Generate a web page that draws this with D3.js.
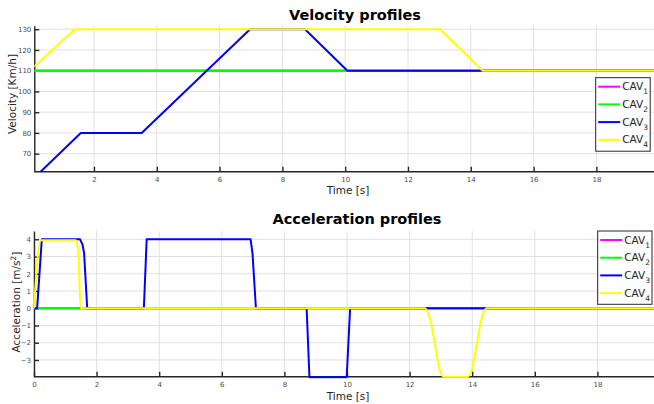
<!DOCTYPE html>
<html>
<head>
<meta charset="utf-8">
<script src="https://cdn.jsdelivr.net/npm/d3@7"></script>
<style>
  body { margin: 0; background: #fff; }
  svg { display: block; font-family: "DejaVu Sans", sans-serif; }
  .axis path, .axis line { stroke: #262626; }
  .axis text { fill: #4d4d4d; font-size: 7px; font-family: "DejaVu Sans", sans-serif; }
  .grid line { stroke: #e0e0e0; }
</style>
</head>
<body>
<div id="chart"></div>
<script>
// series names and colours
const names = ["CAV1", "CAV2", "CAV3", "CAV4"];
const colors = ["#ff00ff", "#00ff00", "#0000ff", "#ffff00"];

// velocity profiles [time s, km/h]
const velCav1 = [[0.1, 110], [20, 110]];
const velCav2 = [[0.1, 110], [20, 110]];
const velCav3 = [[0.3, 61.3], [1.58, 80], [3.52, 80], [6.97, 130], [8.72, 130], [10.07, 110], [20, 110]];
const velCav4 = [[0.1, 112], [1.39, 130], [13.02, 130], [14.38, 110], [20, 110]];

// acceleration profiles [time s, m/s^2]
const accCav1 = [[0, 0], [20, 0]];
const accCav2 = [[0, 0], [20, 0]];
const accCav3 = [[0, 0], [0.1, 0], [0.25, 4], [1.47, 4], [1.55, 3.7], [1.6, 3.2], [1.7, 0],
  [3.51, 0], [3.6, 4], [6.92, 4], [6.98, 3.2], [7.09, 0],
  [8.71, 0], [8.8, -4], [9.99, -4], [10.1, 0], [20, 0]];
const accCav4 = [[0, 0], [0.21, 3.95], [1.33, 3.95], [1.41, 3.5], [1.49, 0],
  [12.49, 0], [12.65, -0.6], [12.8, -2], [12.95, -3.5], [13.08, -3.97], [13.85, -3.97],
  [14.0, -3.5], [14.15, -2], [14.3, -0.6], [14.46, 0], [20, 0]];

// ticks
const velTicks = [70, 80, 90, 100, 110, 120, 130];
const accTicks = [-3, -2, -1, 0, 1, 2, 3, 4];
const timeTicksTop = [2, 4, 6, 8, 10, 12, 14, 16, 18];
const timeTicksBottom = [0, 2, 4, 6, 8, 10, 12, 14, 16, 18];

const W = 654, H = 404;
const svg = d3.select("#chart").append("svg")
  .attr("width", W).attr("height", H);

function drawPanel(opt) {
  const x = d3.scaleLinear().domain(opt.xDomain).range(opt.xRange);
  const y = d3.scaleLinear().domain(opt.yDomain).range(opt.yRange);
  const left = opt.xRange[0], bottom = opt.yRange[0], top = opt.yRange[1];

  // a little slack so lines sitting on the axis are still drawn
  const clipId = "clip-" + opt.id;
  svg.append("clipPath").attr("id", clipId)
    .append("rect")
    .attr("x", left).attr("y", top - 2)
    .attr("width", W - left).attr("height", bottom - top + 4);

  // grid
  const grid = svg.append("g").attr("class", "grid");
  grid.selectAll(".gx").data(opt.xTicks).join("line")
    .attr("x1", d => x(d)).attr("x2", d => x(d))
    .attr("y1", top).attr("y2", bottom);
  grid.selectAll(".gy").data(opt.yTicks).join("line")
    .attr("x1", left).attr("x2", W)
    .attr("y1", d => y(d)).attr("y2", d => y(d));

  // axes (under the data, like matlab's bottom layer)
  const xAxis = d3.axisBottom(x).tickValues(opt.xTicks).tickSizeInner(-5).tickSizeOuter(0).tickPadding(5).tickFormat(d3.format("d"));
  svg.append("g").attr("class", "axis")
    .attr("transform", "translate(0," + bottom + ")")
    .call(xAxis)
    .call(g => g.select(".domain").attr("stroke-width", 1.6).attr("d", "M" + left + ",0H" + W))
    .call(g => g.selectAll(".tick line").attr("stroke-width", 1.4));

  const yAxis = d3.axisLeft(y).tickValues(opt.yTicks).tickSizeInner(-5).tickSizeOuter(0).tickPadding(3).tickFormat(d3.format("d"));
  svg.append("g").attr("class", "axis")
    .attr("transform", "translate(" + left + ",0)")
    .call(yAxis)
    .call(g => g.select(".domain").attr("stroke-width", 1.4))
    .call(g => g.selectAll(".tick line").attr("stroke-width", 1.4));

  // series
  const line = d3.line().x(d => x(d[0])).y(d => y(d[1]));
  const lineSmooth = d3.line().x(d => x(d[0])).y(d => y(d[1])).curve(d3.curveMonotoneX);
  const lg = svg.append("g").attr("clip-path", "url(#" + clipId + ")");
  opt.series.forEach((s, i) => {
    lg.append("path")
      .attr("d", (opt.smooth && i === 3 ? lineSmooth : line)(s))
      .attr("fill", "none")
      .attr("stroke", colors[i])
      .attr("stroke-width", i === 1 ? 2.6 : 2)
      .attr("stroke-linejoin", "round");
  });

  // title
  svg.append("text")
    .attr("x", opt.titleX).attr("y", opt.titleY)
    .attr("text-anchor", "middle")
    .style("font-size", "14.5px").style("font-weight", "bold").attr("fill", "#000")
    .text(opt.title);

  // x label
  svg.append("text")
    .attr("x", 348).attr("y", opt.xLabelY)
    .attr("text-anchor", "middle")
    .style("font-size", "10.5px").attr("fill", "#262626")
    .text("Time [s]");

  // y label
  const yl = svg.append("text")
    .attr("transform", "translate(" + opt.yLabelX + "," + opt.yLabelY + ") rotate(-90)")
    .attr("text-anchor", "middle")
    .style("font-size", "10.5px").attr("fill", "#262626");
  opt.yLabel(yl);

  // legend
  const L = opt.legend;
  const leg = svg.append("g");
  leg.append("rect")
    .attr("x", L.x).attr("y", L.y).attr("width", L.w).attr("height", L.h)
    .attr("fill", "#fff").attr("stroke", "#262626").attr("stroke-width", 1);
  names.forEach((n, i) => {
    const ry = L.y + 9 + i * 17.7;
    leg.append("line")
      .attr("x1", L.x + 2.5).attr("x2", L.x + 24.5)
      .attr("y1", ry).attr("y2", ry)
      .attr("stroke", colors[i]).attr("stroke-width", 2);
    const t = leg.append("text")
      .attr("x", L.x + 26.5).attr("y", ry + 3.5)
      .style("font-size", "10.5px").attr("fill", "#262626");
    t.append("tspan").text(n.slice(0, 3));
    t.append("tspan").attr("dy", 4).style("font-size", "7.5px").text(n.slice(3));
  });
}

drawPanel({
  id: "vel",
  xDomain: [0.1, 20], xRange: [34.3, 659.2],
  yDomain: [61.3, 131.7], yRange: [171.7, 25.7],
  xTicks: timeTicksTop, yTicks: velTicks,
  series: [velCav1, velCav2, velCav3, velCav4],
  title: "Velocity profiles", titleX: 355, titleY: 20,
  xLabelY: 194,
  yLabelX: 16, yLabelY: 94,
  yLabel: t => t.text("Velocity [Km/h]"),
  legend: { x: 595.7, y: 77.7, w: 54.5, h: 73.5 }
});

drawPanel({
  id: "acc",
  xDomain: [0, 20], xRange: [34, 660],
  yDomain: [-3.97, 4.48], yRange: [376.7, 231],
  xTicks: timeTicksBottom, yTicks: accTicks,
  series: [accCav1, accCav2, accCav3, accCav4],
  smooth: true,
  title: "Acceleration profiles", titleX: 357, titleY: 224,
  xLabelY: 400,
  yLabelX: 20, yLabelY: 302,
  yLabel: t => {
    t.append("tspan").text("Acceleration [m/s");
    t.append("tspan").attr("dy", -4).style("font-size", "7.5px").text("2");
    t.append("tspan").attr("dy", 4).text("]");
  },
  legend: { x: 597.7, y: 231, w: 54.3, h: 73.3 }
});
</script>
</body>
</html>
